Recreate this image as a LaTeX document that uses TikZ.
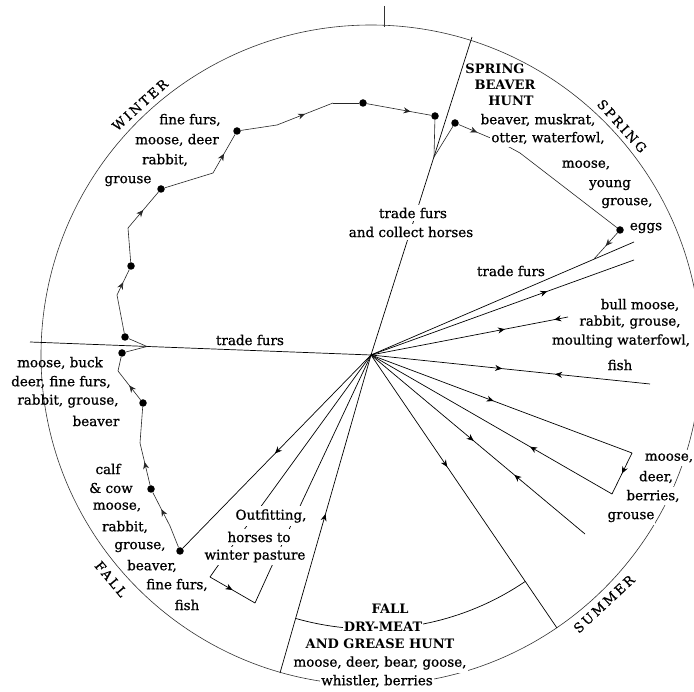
\documentclass[tikz,border=0pt]{standalone}
\usepackage{fontspec}
\setmainfont{DejaVu Serif}
\usetikzlibrary{arrows.meta, decorations.markings}
\tikzset{
  ring/.style={line width=0.6pt, black!80},
  spoke/.style={line width=0.7pt},
  trail/.style={line width=0.6pt, black!85},
  stopdot/.style={circle, fill, inner sep=0pt, minimum size=7.5pt},
  fwd/.style={postaction={decorate, decoration={markings, mark=at position #1 with {\arrow{Stealth[length=7pt,width=6pt]}}}}},
  bwd/.style={postaction={decorate, decoration={markings, mark=at position #1 with {\arrowreversed{Stealth[length=7pt,width=6pt]}}}}},
  food/.style={font=\fontsize{13.5}{16}\selectfont\addfontfeature{FakeBold=0.8}, inner sep=1pt},
  foodw/.style={food, fill=white, inner ysep=3pt},
  hunt/.style={font=\bfseries\fontsize{13}{15}\selectfont, inner sep=1pt},
  huntw/.style={hunt, fill=white, inner ysep=3pt},
  season/.style={font=\fontsize{13}{15}\selectfont\addfontfeature{LetterSpace=18,FakeBold=0.6}, inner sep=0pt},
}

\begin{document}
\begin{tikzpicture}[x=1pt, y=-1pt]
  \fill[white] (0,0) rectangle (694,692);
  \useasboundingbox (0,0) rectangle (694,692);

  % year circle and spokes
  \coordinate (hub) at (371,355);
  \coordinate (tk1) at (384,6); \coordinate (tk2) at (384,27);
  \coordinate (pT) at (30,342); \coordinate (ptop) at (472,37);
  \coordinate (pA) at (634,242); \coordinate (pB) at (634,260);
  \coordinate (pC) at (568,317); \coordinate (pD) at (650,384);
  \coordinate (pE) at (632,453); \coordinate (pF) at (612,494);
  \coordinate (pG) at (585,534); \coordinate (pH) at (557,628);
  \coordinate (pI) at (280,673);
  \coordinate (pL) at (217,567); \coordinate (pL2) at (210,577);
  \coordinate (pM2) at (255,603); \coordinate (pM) at (270,570);
  \coordinate (T1) at (147,346.5); \coordinate (J1) at (434,157); \coordinate (J2) at (594,259);

  \draw[ring] (hub) circle[radius=330];
  \draw[ring] (tk1) -- (tk2);
  \draw[spoke] (pT) -- (hub);
  \draw[spoke] (hub) -- (ptop);
  \draw[spoke] (hub) -- (pA);
  \draw[spoke, fwd=0.67] (hub) -- (pB);
  \draw[spoke, fwd=0.68, bwd=0.93] (hub) -- (pC);
  \draw[spoke, fwd=0.47, bwd=0.66] (hub) -- (pD);
  \draw[spoke, fwd=0.47] (hub) -- (pE);
  \draw[spoke, fwd=0.5] (pE) -- (pF);
  \draw[spoke, fwd=0.34] (pF) -- (hub);
  \draw[spoke, fwd=0.48, bwd=0.67] (hub) -- (pG);
  \draw[spoke, fwd=0.41] (hub) -- (pH);
  \draw[spoke, fwd=0.5] (pI) -- (hub);
  \draw[spoke] plot[domain=55.7:106, samples=40] ({371+274*cos(\x)}, {355+274*sin(\x)});
  \draw[spoke] (hub) -- (pL) -- (pL2);
  \draw[spoke, fwd=0.5] (pL2) -- (pM2);
  \draw[spoke] (pM2) -- (pM) -- (hub);

  % camps along the round
  \node[stopdot] (F1) at (180,551) {}; \node[stopdot] (F2) at (151,489) {};
  \node[stopdot] (F3) at (143,403) {}; \node[stopdot] (F4) at (122,353) {};
  \node[stopdot] (W0) at (125,337) {}; \node[stopdot] (W1) at (131,266) {};
  \node[stopdot] (W2) at (161,189) {}; \node[stopdot] (W3) at (237,131) {};
  \node[stopdot] (W4) at (363,103) {}; \node[stopdot] (W5) at (435,116) {};
  \node[stopdot] (S0) at (455,123) {}; \node[stopdot] (Eg) at (620,230) {};
  \coordinate (fa) at (170,526); \coordinate (fc) at (140,443); \coordinate (fe) at (118,371);
  \coordinate (wa) at (117,295); \coordinate (wb) at (128,228); \coordinate (wc) at (213,173);
  \coordinate (wd) at (277,125); \coordinate (we) at (333,103);
  \coordinate (sa) at (500,142); \coordinate (sb) at (520,153);

  \draw[spoke, fwd=0.51] (hub) -- (F1);
  \draw[trail] (F1) -- (fa);
  \draw[trail, fwd=0.5] (fa) -- (F2);
  \draw[trail, fwd=0.55] (F2) -- (fc);
  \draw[trail] (fc) -- (F3);
  \draw[trail, fwd=0.5] (F3) -- (fe);
  \draw[trail] (fe) -- (F4) -- (T1) -- (W0) -- (wa);
  \draw[trail, fwd=0.5] (wa) -- (W1);
  \draw[trail] (W1) -- (wb);
  \draw[trail, fwd=0.5] (wb) -- (W2);
  \draw[trail] (W2) -- (wc);
  \draw[trail, fwd=0.5] (wc) -- (W3);
  \draw[trail] (W3) -- (wd);
  \draw[trail, fwd=0.5] (wd) -- (we);
  \draw[trail] (we) -- (W4);
  \draw[trail, fwd=0.68] (W4) -- (W5);
  \draw[trail] (W5) -- (J1) -- (S0);
  \draw[trail, fwd=0.45] (S0) -- (sa);
  \draw[trail] (sa) -- (sb) -- (Eg);
  \draw[trail, fwd=0.5] (Eg) -- (J2);

  % seasons
  \node[season, rotate=42] (winter) at (140,105) {WINTER};
  \node[season, rotate=-48] (spring) at (622,126) {SPRING};
  \node[season, rotate=43] (summer) at (604,604) {SUMMER};
  \node[season, rotate=-50] (fall) at (111,579) {FALL};

  % winter
  \node[food] (w1) at (190,120) {fine furs,};
  \node[food] (w2) at (177,140) {moose, deer};
  \node[food] (w3) at (165,160) {rabbit,};
  \node[food] (w4) at (128,181) {grouse};

  % spring
  \node[hunt] (s1) at (495,69) {SPRING};
  \node[hunt] (s2) at (505,85) {BEAVER};
  \node[hunt] (s3) at (511,101) {HUNT};
  \node[food] (s4) at (538,120) {beaver, muskrat,};
  \node[foodw] (s5) at (548,138) {otter, waterfowl,};
  \node[food] (s6) at (586,165) {moose,};
  \node[food] (s7) at (610,185) {young};
  \node[food] (s8) at (627,203) {grouse,};
  \node[food] (s9) at (646,228) {eggs};

  % trading at the post
  \node[foodw] (t1) at (413,213) {trade furs};
  \node[foodw] (t2) at (411,232) {and collect horses};
  \node[food] (t3) at (511,271) {trade furs};
  \node[food] (t4) at (250,340) {trade furs};

  % summer
  \node[food] (u1) at (640,305) {bull moose,};
  \node[food] (u2) at (630,322) {rabbit, grouse,};
  \node[food] (u3) at (621,341) {moulting waterfowl,};
  \node[food] (u4) at (620,365) {fish};
  \node[foodw] (m1) at (669,458) {moose,};
  \node[foodw] (m2) at (656,477) {deer,};
  \node[foodw] (m3) at (653,496) {berries,};
  \node[foodw] (m4) at (631,517) {grouse};

  % fall
  \node[huntw] (d1) at (390,609) {FALL};
  \node[huntw] (d2) at (383,627) {DRY-MEAT};
  \node[huntw] (d3) at (380,644) {AND GREASE HUNT};
  \node[foodw] (d4) at (380,663) {moose, deer, bear, goose,};
  \node[foodw] (d5) at (377,681) {whistler, berries};
  \node[foodw] (o1) at (271,516) {Outfitting,};
  \node[foodw] (o2) at (259,537) {horses to};
  \node[foodw] (o3) at (255,556) {winter pasture};
  \node[food] (f1) at (108,469) {calf};
  \node[food] (f2) at (111,488) {\& cow};
  \node[food] (f3) at (117,507) {moose,};
  \node[food] (f4) at (125,527) {rabbit,};
  \node[food] (f5) at (140,547) {grouse,};
  \node[food] (f6) at (152,566) {beaver,};
  \node[food] (f7) at (177,585) {fine furs,};
  \node[food] (f8) at (187,605) {fish};
  \node[food] (b1) at (60,363) {moose, buck};
  \node[food] (b2) at (61,382) {deer, fine furs,};
  \node[food] (b3) at (68,401) {rabbit, grouse,};
  \node[food] (b4) at (96,421) {beaver};
\end{tikzpicture}
\end{document}
